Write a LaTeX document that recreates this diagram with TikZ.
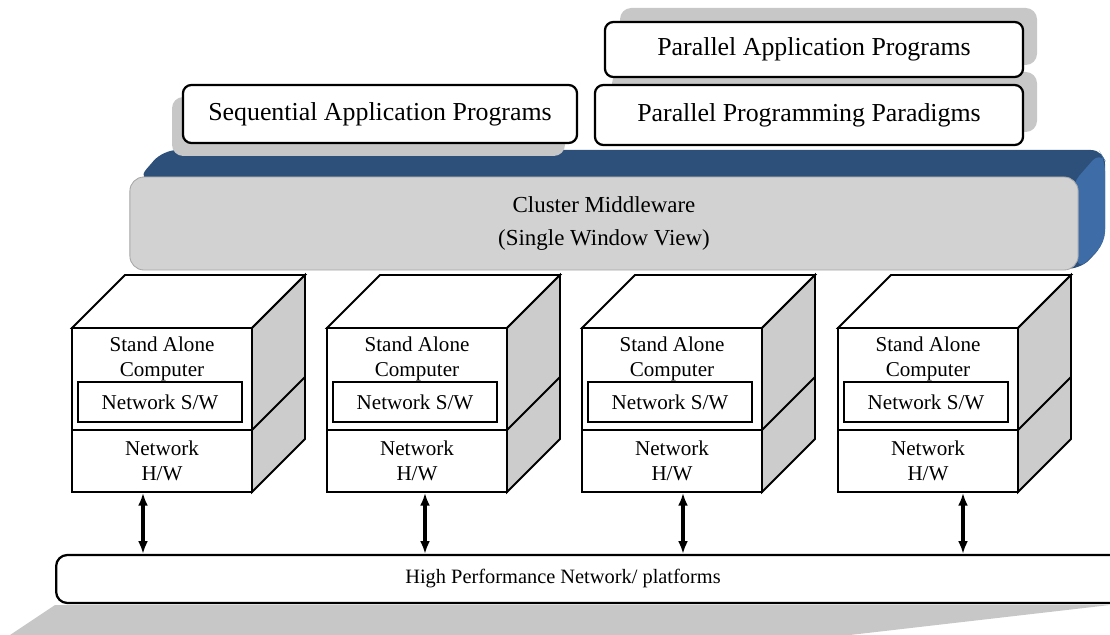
\documentclass[tikz,border=0pt]{standalone}
\usepackage{fontspec}
\setmainfont{Liberation Serif}
\usetikzlibrary{positioning, shapes, arrows, arrows.meta}
\definecolor{mwtop}{HTML}{2D507A}
\definecolor{mwside}{HTML}{3D6CA6}
\definecolor{mwfront}{HTML}{D2D2D2}

\begin{document}
\begin{tikzpicture}[x=0.025cm, y=-0.025cm, semithick,
    appbox/.style={draw, line width=1.6pt, rounded corners=6pt, fill=white, inner sep=0pt,
      font=\fontsize{18.4}{22}\selectfont},
    shadebox/.style={fill=black!22, rounded corners=8pt},
    face/.style={draw, line width=1.3pt, fill=white, inner sep=0pt, minimum width=4.5cm},
    cubetext/.style={align=center, inner sep=0pt, font=\fontsize{15}{17.7}\selectfont},
    link/.style={{Latex[length=9pt,width=7pt]}-{Latex[length=9pt,width=7pt]}, line width=2.2pt}]
  \clip (0,0) rectangle (1110,635);

  % middleware slab
  \fill[mwtop, rounded corners=10pt] (137,180) -- (163,150) -- (1105,150) -- (1105,243) -- (1080,270) -- cycle;
  \fill[mwside, rounded corners=8pt] (1072,184) -- (1100,152) -- (1105,160) -- (1105,243) -- (1078,270) -- cycle;
  \node (mw) [draw=black!35, fill=mwfront, rounded corners=10pt, minimum width=23.7cm, minimum height=2.325cm,
    align=center, font=\fontsize{16.3}{23.4}\selectfont] at (604,223.5) {Cluster Middleware\\(Single Window View)};

  % application layers
  \fill[shadebox] (172,97) rectangle (565,156);
  \fill[shadebox] (620,8) rectangle (1037,65);
  \fill[shadebox] (612,72) rectangle (1037,132);
  \node (seq) [appbox, minimum width=9.85cm, minimum height=1.45cm] at (380,114) {Sequential Application Programs};
  \node (pap) [appbox, minimum width=10.45cm, minimum height=1.375cm] at (814,49.5) {Parallel Application Programs};
  \node (ppp) [appbox, minimum width=10.7cm, minimum height=1.5cm] at (809,115) {Parallel Programming Paradigms};

  % computers
  \foreach \i/\x in {1/72, 2/327, 3/582, 4/838} {
    \filldraw[fill=white, line width=1.3pt] (\x,328) -- (\x+53,275) -- (\x+233,275) -- (\x+180,328) -- cycle;
    \filldraw[fill=black!20, line width=1.3pt] (\x+180,328) -- (\x+233,275) -- (\x+233,439) -- (\x+180,492) -- cycle;
    \draw[line width=1.3pt] (\x+180,430) -- (\x+233,377);
    \node (pc\i) [face, minimum height=2.55cm] at (\x+90,379) {};
    \node (hw\i) [face, minimum height=1.55cm, cubetext] at (\x+90,461) {Network\\H/W};
    \node (sa\i) [cubetext] at (\x+90,359) {Stand Alone\\Computer};
    \node (sw\i) [draw, line width=1.3pt, minimum width=4.1cm, minimum height=1cm, cubetext] at (\x+88,402) {Network S/W};
  }

  % network
  \fill[black!22] (55,605) -- (1110,605) -- (850,635) -- (10,635) -- cycle;
  \node (net) [draw, line width=1.6pt, fill=white, rounded corners=8pt, minimum width=27cm, minimum height=1.2cm,
    anchor=west] at (55,579) {};
  \node (nettxt) [font=\fontsize{14.5}{17}\selectfont] at (563,579) {High Performance Network/ platforms};
  \foreach \i/\ax in {1/143, 2/425, 3/683, 4/963}
    \draw[link] (\ax,0 |- hw\i.south) -- (\ax,0 |- net.north);
\end{tikzpicture}
\end{document}
